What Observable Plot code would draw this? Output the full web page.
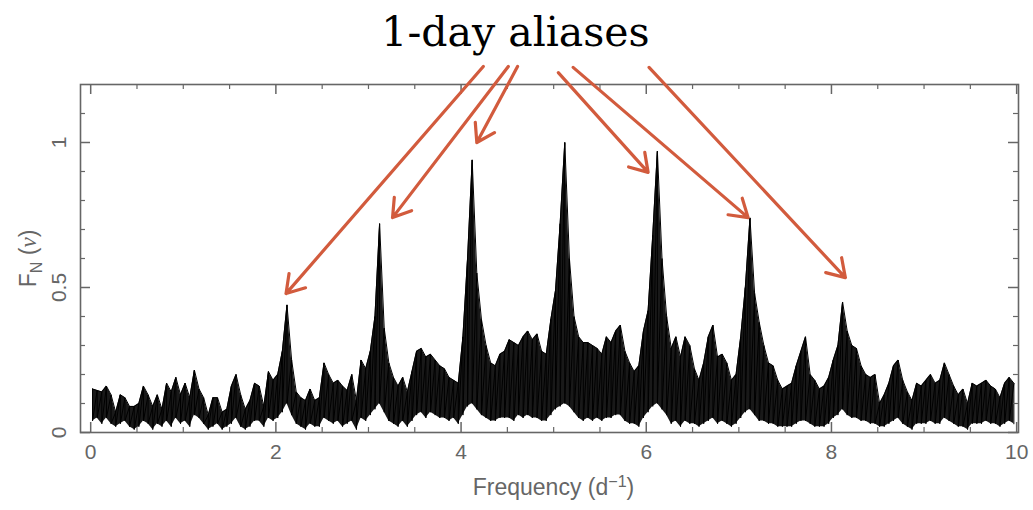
<!DOCTYPE html>
<html><head><meta charset="utf-8">
<script src="https://cdn.jsdelivr.net/npm/d3@7"></script>
<script src="https://cdn.jsdelivr.net/npm/@observablehq/plot@0.6"></script>
<style>body{margin:0;background:#fff}</style>
</head><body><div id="chart"></div>
<script>
// Frequency grid of the spectrum (d^-1)
const freqStart = 0.02;
const freqStep = 0.05;
// Upper envelope of the normalized power F_N(nu)
const powerHigh = [
 0.15,0.145,0.14,0.16,0.13,0.07,0.13,0.12,0.09,0.09,
 0.10,0.16,0.13,0.09,0.13,0.08,0.17,0.14,0.19,0.13,
 0.17,0.12,0.215,0.15,0.12,0.06,0.12,0.12,0.07,0.08,
 0.16,0.20,0.13,0.08,0.11,0.17,0.16,0.09,0.21,0.18,
 0.20,0.28,0.44,0.25,0.14,0.12,0.11,0.15,0.11,0.12,
 0.24,0.20,0.17,0.18,0.16,0.145,0.20,0.11,0.25,0.22,
 0.28,0.40,0.72,0.36,0.24,0.19,0.16,0.19,0.14,0.21,
 0.28,0.29,0.26,0.27,0.25,0.23,0.22,0.19,0.18,0.17,
 0.33,0.60,0.94,0.55,0.39,0.30,0.24,0.23,0.27,0.28,
 0.32,0.31,0.30,0.33,0.35,0.32,0.34,0.28,0.27,0.39,
 0.49,0.72,1.00,0.60,0.40,0.33,0.31,0.31,0.30,0.29,
 0.27,0.33,0.31,0.35,0.37,0.28,0.24,0.21,0.23,0.35,
 0.42,0.68,0.97,0.60,0.40,0.29,0.33,0.26,0.33,0.30,
 0.22,0.18,0.24,0.33,0.37,0.26,0.27,0.24,0.18,0.20,
 0.33,0.50,0.74,0.48,0.38,0.30,0.24,0.23,0.18,0.15,
 0.16,0.17,0.23,0.28,0.33,0.20,0.18,0.15,0.16,0.19,
 0.25,0.30,0.45,0.35,0.30,0.29,0.23,0.20,0.19,0.20,
 0.10,0.13,0.17,0.23,0.25,0.18,0.14,0.11,0.17,0.16,
 0.18,0.20,0.17,0.18,0.24,0.20,0.16,0.13,0.15,0.10,
 0.17,0.16,0.17,0.18,0.16,0.15,0.12,0.17,0.19,0.17
];
// Lower edge of the noise band
const powerLow = [
 0.04,0.05,0.03,0.05,0.03,0.02,0.03,0.04,0.02,0.01,
 0.02,0.04,0.03,0.01,0.03,0.02,0.04,0.02,0.05,0.03,
 0.04,0.02,0.06,0.05,0.03,0.01,0.02,0.03,0.01,0.02,
 0.03,0.05,0.02,0.01,0.02,0.04,0.04,0.02,0.05,0.04,
 0.05,0.07,0.10,0.06,0.03,0.02,0.01,0.03,0.02,0.02,
 0.05,0.04,0.03,0.04,0.02,0.03,0.04,0.01,0.05,0.04,
 0.06,0.08,0.10,0.07,0.04,0.03,0.02,0.04,0.02,0.04,
 0.06,0.07,0.05,0.07,0.06,0.05,0.05,0.04,0.05,0.03,
 0.06,0.09,0.10,0.08,0.06,0.05,0.04,0.04,0.05,0.05,
 0.05,0.04,0.06,0.05,0.06,0.05,0.05,0.04,0.04,0.06,
 0.08,0.09,0.10,0.09,0.07,0.05,0.04,0.05,0.04,0.05,
 0.04,0.05,0.05,0.06,0.06,0.04,0.03,0.03,0.02,0.05,
 0.07,0.09,0.10,0.08,0.06,0.03,0.04,0.02,0.04,0.03,
 0.03,0.02,0.03,0.04,0.05,0.03,0.04,0.03,0.02,0.03,
 0.05,0.07,0.08,0.06,0.04,0.04,0.03,0.03,0.02,0.02,
 0.02,0.02,0.03,0.04,0.04,0.03,0.02,0.02,0.02,0.03,
 0.05,0.06,0.08,0.06,0.05,0.05,0.04,0.04,0.03,0.03,
 0.02,0.02,0.03,0.04,0.05,0.03,0.02,0.01,0.03,0.03,
 0.03,0.04,0.03,0.03,0.05,0.04,0.03,0.02,0.02,0.01,
 0.03,0.03,0.03,0.04,0.03,0.03,0.02,0.03,0.04,0.03
];
const xTickLabels = [0, 2, 4, 6, 8, 10];
const xMinorTicks = [0.5,1,1.5,2.5,3,3.5,4.5,5,5.5,6.5,7,7.5,8.5,9,9.5];
const yTickLabels = [0, 0.5, 1];
const yMinorTicks = [0.1,0.2,0.3,0.4,0.6,0.7,0.8,0.9,1.1];
// Annotation arrows: start (near title) and tip (at each alias peak), data units
const arrowStartX = [4.24, 4.51, 4.61, 5.05, 5.21, 6.03];
const arrowStartY = [1.262, 1.262, 1.262, 1.241, 1.259, 1.259];
const arrowEndX = [2.11, 3.26, 4.17, 6.02, 7.10, 8.15];
const arrowEndY = [0.479, 0.741, 1.0, 0.897, 0.741, 0.534];
const titleText = "1-day aliases";

const spectrum = powerHigh.map((hi, i) => ({f: freqStart + i * freqStep, hi, lo: powerLow[i]}));
// the trace alternates between the top and the bottom of the noise band at each sample
const trace = spectrum.flatMap(d => [{f: d.f, p: d.hi}, {f: d.f, p: d.lo}]);
const arrows = arrowStartX.map((x, i) => ({x1: x, y1: arrowStartY[i], x2: arrowEndX[i], y2: arrowEndY[i]}));

const X0 = -0.11, X1 = 10.02, Y0 = 0, Y1 = 1.2;
const axisGray = "#666";
const sans = "'Liberation Sans',Arial,sans-serif";
const ux = (X1 - X0) / 938, uy = (Y1 - Y0) / 348;

const plot = Plot.plot({
  width: 1033, height: 510,
  marginLeft: 80, marginRight: 15, marginTop: 84, marginBottom: 78,
  x: {domain: [X0, X1], axis: null},
  y: {domain: [Y0, Y1], axis: null},
  style: {background: "white", fontFamily: sans},
  marks: [
    Plot.areaY(spectrum, {x: "f", y1: "lo", y2: "hi", fill: "#000", fillOpacity: 0.9}),
    Plot.line(trace, {x: "f", y: "p", stroke: "#000", strokeWidth: 1}),
    Plot.lineY(spectrum, {x: "f", y: "hi", stroke: "#000", strokeWidth: 1}),
    Plot.frame({stroke: axisGray, strokeWidth: 1.6}),
    // bottom and top ticks (inward)
    Plot.ruleX(xTickLabels, {x: d => d, y1: Y0, y2: Y0 + 10 * uy, stroke: axisGray, strokeWidth: 1.5}),
    Plot.ruleX(xTickLabels, {x: d => d, y1: Y1, y2: Y1 - 10 * uy, stroke: axisGray, strokeWidth: 1.5}),
    Plot.ruleX(xMinorTicks, {x: d => d, y1: Y0, y2: Y0 + 5 * uy, stroke: axisGray, strokeWidth: 1.2}),
    Plot.ruleX(xMinorTicks, {x: d => d, y1: Y1, y2: Y1 - 5 * uy, stroke: axisGray, strokeWidth: 1.2}),
    // left and right ticks (inward)
    Plot.ruleY(yTickLabels, {y: d => d, x1: X0, x2: X0 + 10 * ux, stroke: axisGray, strokeWidth: 1.5}),
    Plot.ruleY(yTickLabels, {y: d => d, x1: X1, x2: X1 - 10 * ux, stroke: axisGray, strokeWidth: 1.5}),
    Plot.ruleY(yMinorTicks, {y: d => d, x1: X0, x2: X0 + 5 * ux, stroke: axisGray, strokeWidth: 1.2}),
    Plot.ruleY(yMinorTicks, {y: d => d, x1: X1, x2: X1 - 5 * ux, stroke: axisGray, strokeWidth: 1.2}),
    // tick labels
    Plot.text(xTickLabels, {x: d => d, y: Y0, dy: 20, text: d => String(d), fontSize: 21, fill: axisGray}),
    Plot.text(yTickLabels, {x: X0, y: d => d, dx: -21, rotate: -90, text: d => String(d), fontSize: 21, fill: axisGray}),
    // axis titles
    Plot.text(["Frequency (d-1)"], {frameAnchor: "bottom", textAnchor: "middle", dx: 4, dy: 62, fontSize: 23, fill: axisGray}),
    Plot.text(["FN (v)"], {frameAnchor: "left", textAnchor: "middle", dx: -52, rotate: -90, fontSize: 23, fill: axisGray}),
    // title
    Plot.text([titleText], {frameAnchor: "top", textAnchor: "middle", dx: -34, dy: -39, lineAnchor: "bottom", fontSize: 41, fill: "#000", fontFamily: "'DejaVu Serif','Liberation Serif',serif"}),
    // arrows
    Plot.arrow(arrows, {x1: "x1", y1: "y1", x2: "x2", y2: "y2", stroke: "#d25b3d", strokeWidth: 3.2, headLength: 9.5, headAngle: 65})
  ]
});
document.getElementById("chart").appendChild(plot);

// Rich text: subscript N and Greek nu in the y title, superscript -1 in the x title
const texts = d3.select(plot).selectAll("text");
texts.filter(function () { return this.textContent === "FN (v)"; })
  .each(function () {
    const t = d3.select(this);
    t.text(null);
    t.append("tspan").text("F");
    t.append("tspan").attr("dy", "0.35em").attr("font-size", "0.7em").text("N");
    t.append("tspan").attr("dy", "-0.245em").text(" (");
    t.append("tspan").attr("font-family", "'Liberation Serif',serif").attr("font-style", "italic").text("ν");
    t.append("tspan").text(")");
  });
texts.filter(function () { return this.textContent === "Frequency (d-1)"; })
  .each(function () {
    const t = d3.select(this);
    t.text(null);
    t.append("tspan").text("Frequency (d");
    t.append("tspan").attr("dy", "-0.45em").attr("font-size", "0.7em").text("−1");
    t.append("tspan").attr("dy", "0.315em").text(")");
  });
</script>
</body></html>
